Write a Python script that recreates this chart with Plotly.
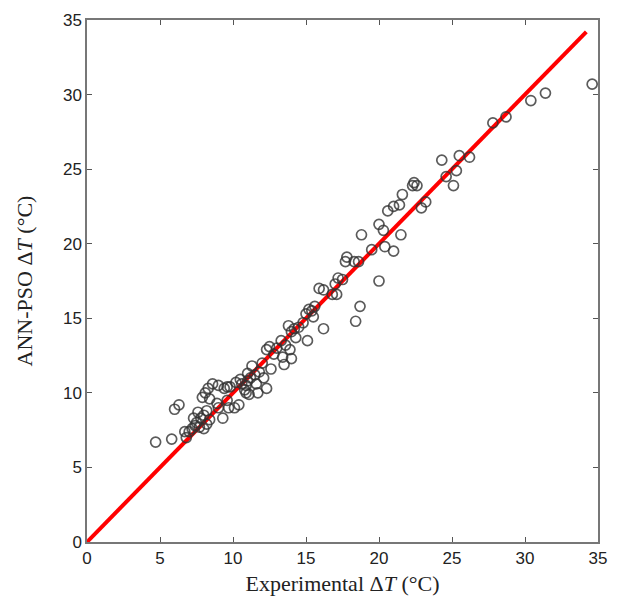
import plotly.graph_objects as go

# Experimental vs predicted ΔT (°C)
exp_dt = [34.6, 31.4, 30.4, 28.7, 27.8,
          26.2, 25.5, 25.3, 24.6, 24.3, 25.1,
          23.2, 22.9, 22.6, 22.4, 22.3,
          21.4, 21.6, 21.0, 20.6, 21.5, 21.0,
          20.0, 20.3, 20.4, 20.0, 19.5,
          18.8, 18.6, 18.3, 17.8, 17.7, 17.5, 18.7, 18.4,
          17.2, 17.0, 16.8, 16.2, 15.9, 16.2, 17.1,
          15.6, 15.4, 15.2, 15.0, 15.5, 14.8, 15.1,
          14.5, 14.2, 14.0, 13.8, 14.3, 13.6, 13.9, 14.0,
          13.3, 13.0, 12.8, 12.5, 12.3, 13.4, 12.6, 13.5,
          12.0, 11.8, 11.5, 11.3, 11.6, 12.1, 12.3, 11.7,
          11.2, 11.0, 10.9, 10.8, 10.6, 10.5, 10.9, 11.1, 10.4, 11.0, 10.2,
          9.8, 9.6, 9.4, 9.0, 8.6, 8.3, 8.1, 7.9, 8.4, 8.9, 9.7, 9.0,
          8.2, 8.0, 7.8, 7.6, 7.5, 7.4, 7.7, 8.0, 8.2, 7.3, 7.2, 7.0, 6.8, 8.4,
          6.3, 6.0, 5.8, 4.7, 6.7,
          9.3, 9.6, 10.1]
pred_dt = [30.7, 30.1, 29.6, 28.5, 28.1,
           25.8, 25.9, 24.9, 24.5, 25.6, 23.9,
           22.8, 22.4, 23.9, 24.1, 23.9,
           22.6, 23.3, 22.5, 22.2, 20.6, 19.5,
           21.3, 20.9, 19.8, 17.5, 19.6,
           20.6, 18.8, 18.8, 19.1, 18.8, 17.6, 15.8, 14.8,
           17.7, 17.3, 16.6, 16.9, 17.0, 14.3, 16.6,
           15.8, 15.5, 15.6, 15.3, 15.1, 14.7, 13.5,
           14.4, 14.3, 14.1, 14.5, 13.7, 13.2, 12.9, 12.3,
           13.5, 13.0, 12.6, 13.1, 12.9, 12.4, 11.6, 11.9,
           12.0, 11.4, 11.2, 11.8, 10.6, 11.0, 10.3, 10.0,
           11.0, 10.8, 10.5, 10.2, 10.6, 10.9, 10.0, 9.9, 9.2, 11.3, 10.7,
           10.4, 10.4, 10.3, 10.5, 10.6, 10.3, 10.0, 9.7, 9.6, 9.3, 9.0, 9.0,
           8.8, 8.5, 8.3, 8.7, 8.0, 7.8, 7.7, 7.6, 7.9, 8.3, 7.6, 7.4, 7.0, 8.2,
           9.2, 8.9, 6.9, 6.7, 7.4,
           8.3, 9.5, 9.0]

# y = x reference line
line_x = [0, 34.2]
line_y = [0, 34.2]

ticks = [0, 5, 10, 15, 20, 25, 30, 35]

fig = go.Figure()
fig.add_trace(go.Scatter(x=line_x, y=line_y, mode="lines",
                         line=dict(color="#ff0000", width=4), showlegend=False))
fig.add_trace(go.Scatter(x=exp_dt, y=pred_dt, mode="markers",
                         marker=dict(symbol="circle-open", size=10,
                                     color="rgba(50,50,50,0.8)",
                                     line=dict(width=1.7)),
                         showlegend=False))

axis_common = dict(range=[0, 35], tickvals=ticks, ticks="inside", ticklen=5,
                   tickcolor="#555", showline=True, linecolor="#777", linewidth=1.5,
                   mirror="ticks", showgrid=False, zeroline=False, automargin=False,
                   tickfont=dict(family="Liberation Sans, Arial", size=17, color="#222"))

fig.update_layout(
    width=601, height=592,
    margin=dict(l=79, r=11, t=12, b=58),
    paper_bgcolor="white", plot_bgcolor="white",
    xaxis=dict(**axis_common,
               title=dict(text="Experimental Δ<i>T</i> (°C)", standoff=8,
                          font=dict(family="Liberation Serif, Times New Roman", size=22, color="#222"))),
    yaxis=dict(**axis_common,
               title=dict(text="ANN-PSO Δ<i>T</i> (°C)", standoff=24,
                          font=dict(family="Liberation Serif, Times New Roman", size=22, color="#222"))),
)

fig.write_html("out.html")
